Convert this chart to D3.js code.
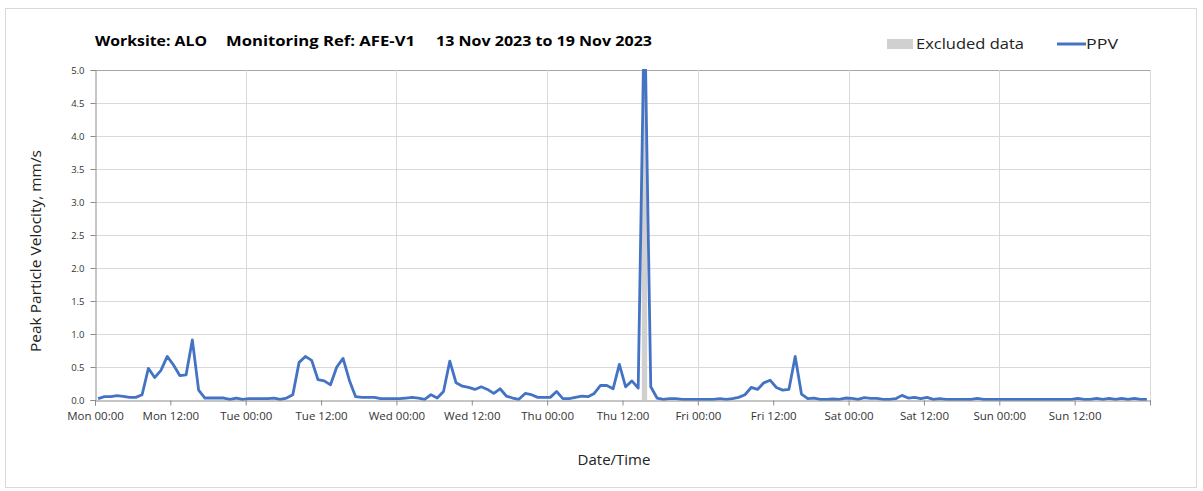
<!DOCTYPE html>
<html>
<head>
<meta charset="utf-8">
<script src="https://cdn.jsdelivr.net/npm/d3@7"></script>
<style>
  html, body { margin: 0; padding: 0; background: #fff; }
  svg { display: block; font-family: "Open Sans", "Noto Sans", sans-serif; }
</style>
</head>
<body>
<svg id="chart" width="1203" height="491"></svg>
<script>
// ---- data ----
const titleParts = ["Worksite: ALO", "Monitoring Ref: AFE-V1", "13 Nov 2023 to 19 Nov 2023"];
const seriesName = "PPV";
const excludedName = "Excluded data";
const xLabel = "Date/Time";
const yLabel = "Peak Particle Velocity, mm/s";
const rangeStart = "2023-11-13T00:00:00";
const rangeEnd = "2023-11-20T00:00:00";
const firstReading = "2023-11-13T00:30:00"; // hourly readings
const yTicks = [0, 0.5, 1, 1.5, 2, 2.5, 3, 3.5, 4, 4.5, 5];
const ppv = [
  0.02,0.05,0.05,0.065,0.055,0.04,0.04,0.08,0.48,0.34,
  0.45,0.66,0.53,0.37,0.38,0.91,0.15,0.03,0.03,0.03,
  0.03,0.01,0.03,0.01,0.02,0.02,0.02,0.02,0.03,0.01,
  0.03,0.08,0.57,0.66,0.60,0.31,0.29,0.23,0.50,0.63,
  0.30,0.05,0.04,0.04,0.04,0.02,0.02,0.02,0.02,0.03,
  0.04,0.03,0.01,0.08,0.03,0.13,0.59,0.26,0.21,0.19,
  0.16,0.20,0.16,0.10,0.17,0.06,0.03,0.01,0.10,0.08,
  0.04,0.04,0.04,0.13,0.02,0.02,0.04,0.06,0.05,0.10,
  0.22,0.22,0.17,0.54,0.20,0.29,0.18,6.00,0.20,0.03,
  0.01,0.02,0.02,0.01,0.01,0.01,0.01,0.01,0.01,0.02,
  0.01,0.02,0.04,0.08,0.19,0.16,0.26,0.30,0.19,0.15,
  0.16,0.66,0.09,0.02,0.03,0.01,0.01,0.015,0.01,0.03,
  0.025,0.01,0.035,0.025,0.025,0.01,0.01,0.02,0.07,0.03,
  0.04,0.02,0.04,0.01,0.02,0.01,0.01,0.01,0.01,0.01,
  0.025,0.01,0.01,0.01,0.01,0.01,0.01,0.01,0.01,0.01,
  0.01,0.01,0.01,0.01,0.01,0.01,0.025,0.01,0.01,0.025,
  0.01,0.025,0.01,0.025,0.01,0.025,0.01,0.01
];
const excludedIdx = [87]; // readings flagged as excluded

// ---- layout ----
const M = { left: 95, right: 1150, top: 70, bottom: 400 };
const svg = d3.select("#chart");
const t0 = new Date(firstReading);
const times = ppv.map((v, i) => d3.timeHour.offset(t0, i));
const data = ppv.map((v, i) => ({ t: times[i], v }));

const x = d3.scaleTime().domain([new Date(rangeStart), new Date(rangeEnd)]).range([M.left, M.right]);
const y = d3.scaleLinear().domain([0, 5]).range([M.bottom, M.top]);

// outer border
svg.append("rect").attr("x", 5.5).attr("y", 8.5).attr("width", 1191).attr("height", 479)
  .attr("fill", "none").attr("stroke", "#d9d9d9");

// horizontal grid
svg.append("g").selectAll("line").data(yTicks.filter(d => d > 0)).join("line")
  .attr("x1", M.left).attr("x2", M.right)
  .attr("y1", d => Math.round(y(d)) + 0.5).attr("y2", d => Math.round(y(d)) + 0.5)
  .attr("stroke", d => d === 5 ? "#a6a6a6" : "#d9d9d9").attr("stroke-width", 1);

// vertical grid at day boundaries
const days = d3.timeDay.range(d3.timeDay.offset(new Date(rangeStart), 1), d3.timeDay.offset(new Date(rangeEnd), 1));
svg.append("g").selectAll("line").data(days).join("line")
  .attr("x1", d => Math.round(x(d)) + 0.5).attr("x2", d => Math.round(x(d)) + 0.5)
  .attr("y1", M.top).attr("y2", M.bottom)
  .attr("stroke", "#d9d9d9");

// excluded bars
const hourW = x(d3.timeHour.offset(t0, 1)) - x(t0);
svg.append("g").selectAll("rect").data(excludedIdx).join("rect")
  .attr("x", i => x(times[i]) - hourW * 0.43).attr("width", hourW * 0.86)
  .attr("y", y(5)).attr("height", y(0) - y(5))
  .attr("fill", "#d0d0d0");

// clip
svg.append("clipPath").attr("id", "plotclip").append("rect")
  .attr("x", M.left).attr("y", M.top - 1).attr("width", M.right - M.left).attr("height", M.bottom - M.top + 2);

svg.append("path").datum(data)
  .attr("clip-path", "url(#plotclip)")
  .attr("d", d3.line().x(d => x(d.t)).y(d => y(d.v)))
  .attr("fill", "none").attr("stroke", "#4472C4").attr("stroke-width", 2.8)
  .attr("stroke-linejoin", "round");

// y axis
const yAxis = svg.append("g").attr("transform", `translate(${M.left + 0.5},0)`)
  .call(d3.axisLeft(y).tickValues(yTicks).tickFormat(d3.format(".1f")).tickSize(5).tickPadding(6));
yAxis.select(".domain").attr("stroke", "#8c8c8c");
yAxis.selectAll(".tick line").attr("stroke", "#8c8c8c");
yAxis.selectAll("text").attr("font-size", 9.5).attr("fill", "#333").attr("font-family", "'Open Sans', sans-serif");

// x axis
const xTicks = d3.timeHour.every(12).range(new Date(rangeStart), new Date(rangeEnd));
const xAxis = svg.append("g").attr("transform", `translate(0,${M.bottom + 0.5})`)
  .call(d3.axisBottom(x).tickValues(xTicks).tickFormat(d3.timeFormat("%a %H:%M")).tickSize(5).tickPadding(6));
xAxis.select(".domain").attr("stroke", "#8c8c8c");
xAxis.selectAll(".tick line").attr("stroke", "#8c8c8c");
xAxis.selectAll("text").attr("font-size", 11.5).attr("fill", "#333").attr("font-family", "'Open Sans', sans-serif");
// end tick
svg.append("line").attr("x1", M.right + 0.5).attr("x2", M.right + 0.5).attr("y1", M.bottom).attr("y2", M.bottom + 5).attr("stroke", "#8c8c8c");

// title
const titleX = [95, 226, 436];
const titleW = [112, 189, 216];
svg.append("g").selectAll("text").data(titleParts).join("text")
  .attr("x", (d, i) => titleX[i]).attr("y", 46)
  .attr("textLength", (d, i) => titleW[i]).attr("lengthAdjust", "spacingAndGlyphs")
  .attr("font-size", 15).attr("font-weight", "bold").attr("fill", "#000")
  .text(d => d);

// legend
svg.append("rect").attr("x", 887).attr("y", 39).attr("width", 26).attr("height", 10).attr("fill", "#d0d0d0");
svg.append("text").attr("x", 916).attr("y", 49).attr("font-size", 15).attr("fill", "#222")
  .attr("textLength", 108).attr("lengthAdjust", "spacingAndGlyphs").text(excludedName);
svg.append("line").attr("x1", 1057).attr("x2", 1086).attr("y1", 44).attr("y2", 44)
  .attr("stroke", "#4472C4").attr("stroke-width", 3);
svg.append("text").attr("x", 1086).attr("y", 49).attr("font-size", 15).attr("fill", "#222")
  .attr("textLength", 32).attr("lengthAdjust", "spacingAndGlyphs").text(seriesName);

// axis titles
svg.append("text").attr("x", 614).attr("y", 465).attr("text-anchor", "middle")
  .attr("font-size", 15).attr("fill", "#222").text(xLabel);
svg.append("text").attr("transform", `translate(41,${(M.top + M.bottom) / 2 + 16}) rotate(-90)`)
  .attr("text-anchor", "middle").attr("font-size", 15).attr("fill", "#222")
  .attr("textLength", 202).attr("lengthAdjust", "spacingAndGlyphs").text(yLabel);
</script>
</body>
</html>
